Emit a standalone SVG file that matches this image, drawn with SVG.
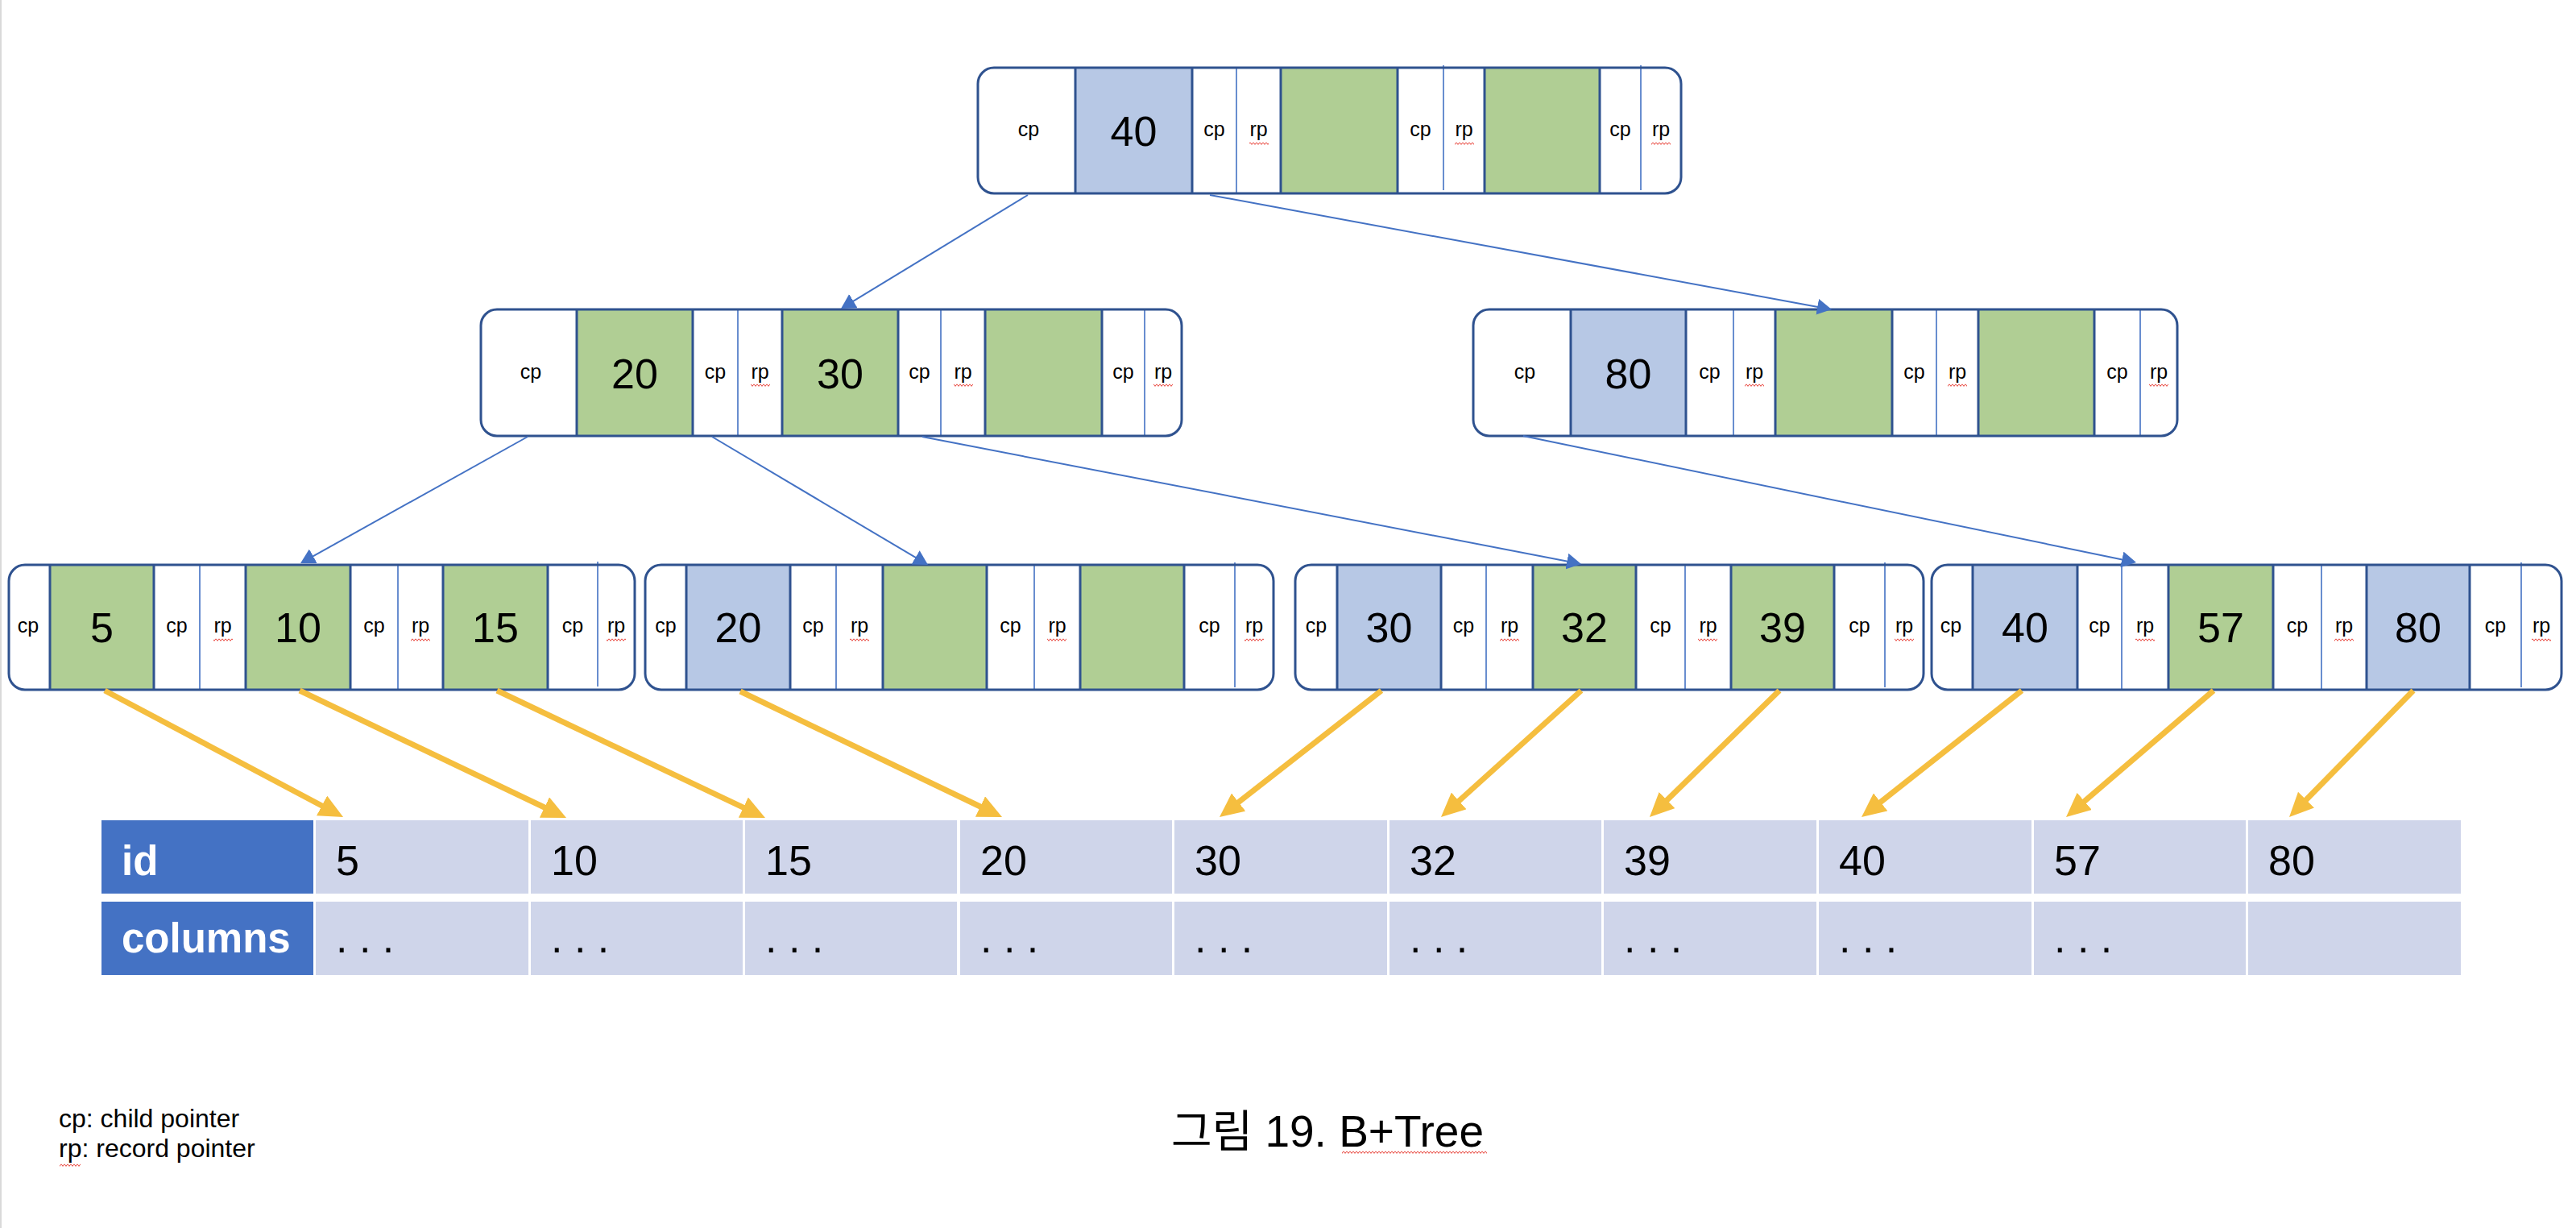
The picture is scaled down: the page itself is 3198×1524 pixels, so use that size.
<svg xmlns="http://www.w3.org/2000/svg" width="3198" height="1524" viewBox="0 0 3198 1524">
<defs>
<style>
.bg{fill:#fff}
.frame{fill:none;stroke:#2F528F;stroke-width:3}
.kb{fill:#B7C8E5}
.kg{fill:#B0CE94}
.thick{stroke:#2F528F;stroke-width:3}
.thin{stroke:#4472C4;stroke-width:1.6}
text{font-family:"Liberation Sans",Arial,sans-serif;fill:#000}
.l{font-size:25px;text-anchor:middle}
.n{font-size:52px;text-anchor:middle}
.blue{stroke:#4472C4;stroke-width:2;fill:none;marker-end:url(#ab)}
.gold{stroke:#F5BE3F;stroke-width:7;fill:none;marker-end:url(#ay)}
.hdr{fill:#4472C4}
.cell{fill:#CFD5EA}
.ht{font-size:51px;font-weight:bold;fill:#fff}
.ct{font-size:52px}
.sq{fill:url(#wave)}
</style>
<pattern id="wave" width="4" height="4" patternUnits="userSpaceOnUse">
<path d="M0,0.6 L2,3.4 L4,0.6" fill="none" stroke="#E8453C" stroke-width="1"/>
</pattern>
<marker id="ab" markerUnits="userSpaceOnUse" markerWidth="20" markerHeight="20" refX="9" refY="10" orient="auto">
<path d="M0,0 L18,10 L0,20 z" fill="#4472C4"/>
</marker>
<marker id="ay" markerUnits="userSpaceOnUse" markerWidth="30" markerHeight="28" refX="15" refY="14" orient="auto">
<path d="M0,0 L30,14 L0,28 z" fill="#F5BE3F"/>
</marker>
</defs>
<rect x="0" y="0" width="3198" height="1524" fill="#fff"/>
<rect x="0" y="0" width="2" height="1524" fill="#D9D9D9"/>

<g id="root">
<rect class="bg" x="1214" y="84" width="873" height="156" rx="20"/>
<rect class="kb" x="1335" y="84" width="145" height="156"/>
<rect class="kg" x="1590" y="84" width="145" height="156"/>
<rect class="kg" x="1843" y="84" width="143" height="156"/>
<path class="thick" d="M1335,84V240M1480,84V240M1590,84V240M1735,84V240M1843,84V240M1986,84V240"/>
<path class="thin" d="M1535,84V240M1792,81V236M2037,81V236"/>
<rect class="frame" x="1214" y="84" width="873" height="156" rx="20"/>
<text class="l" x="1277" y="169">cp</text>
<text class="n" x="1407.5" y="181">40</text>
<text class="l" x="1507.5" y="169">cp</text>
<text class="l" x="1562.5" y="169">rp</text>
<text class="l" x="1763.5" y="169">cp</text>
<text class="l" x="1817.5" y="169">rp</text>
<text class="l" x="2011.5" y="169">cp</text>
<text class="l" x="2062" y="169">rp</text>
<rect class="sq" x="1551" y="176" width="24" height="4"/>
<rect class="sq" x="1806" y="176" width="24" height="4"/>
<rect class="sq" x="2050" y="176" width="24" height="4"/>
</g>

<g id="n20_30">
<rect class="bg" x="597" y="384" width="870" height="157" rx="20"/>
<rect class="kg" x="716" y="384" width="144" height="157"/>
<rect class="kg" x="971" y="384" width="144" height="157"/>
<rect class="kg" x="1223" y="384" width="145" height="157"/>
<path class="thick" d="M716,384V541M860,384V541M971,384V541M1115,384V541M1223,384V541M1368,384V541"/>
<path class="thin" d="M916,384V541M1168,384V541M1421,384V541"/>
<rect class="frame" x="597" y="384" width="870" height="157" rx="20"/>
<text class="l" x="659" y="469.5">cp</text>
<text class="n" x="788" y="481.5">20</text>
<text class="l" x="888" y="469.5">cp</text>
<text class="l" x="943.5" y="469.5">rp</text>
<text class="n" x="1043" y="481.5">30</text>
<text class="l" x="1141.5" y="469.5">cp</text>
<text class="l" x="1195.5" y="469.5">rp</text>
<text class="l" x="1394.5" y="469.5">cp</text>
<text class="l" x="1444" y="469.5">rp</text>
<rect class="sq" x="932" y="476" width="24" height="4"/>
<rect class="sq" x="1184" y="476" width="24" height="4"/>
<rect class="sq" x="1432" y="476" width="24" height="4"/>
</g>

<g id="n80">
<rect class="bg" x="1829" y="384" width="874" height="157" rx="20"/>
<rect class="kb" x="1950" y="384" width="143" height="157"/>
<rect class="kg" x="2204" y="384" width="145" height="157"/>
<rect class="kg" x="2456" y="384" width="144" height="157"/>
<path class="thick" d="M1950,384V541M2093,384V541M2204,384V541M2349,384V541M2456,384V541M2600,384V541"/>
<path class="thin" d="M2152,384V541M2404,384V541M2657,384V541"/>
<rect class="frame" x="1829" y="384" width="874" height="157" rx="20"/>
<text class="l" x="1893" y="469.5">cp</text>
<text class="n" x="2021.5" y="481.5">80</text>
<text class="l" x="2122.5" y="469.5">cp</text>
<text class="l" x="2178" y="469.5">rp</text>
<text class="l" x="2376.5" y="469.5">cp</text>
<text class="l" x="2430" y="469.5">rp</text>
<text class="l" x="2628.5" y="469.5">cp</text>
<text class="l" x="2680" y="469.5">rp</text>
<rect class="sq" x="2166" y="476" width="24" height="4"/>
<rect class="sq" x="2418" y="476" width="24" height="4"/>
<rect class="sq" x="2668" y="476" width="24" height="4"/>
</g>

<g id="leaf5">
<rect class="bg" x="11" y="701" width="777" height="155" rx="20"/>
<rect class="kg" x="62" y="701" width="129" height="155"/>
<rect class="kg" x="305" y="701" width="130" height="155"/>
<rect class="kg" x="550" y="701" width="130" height="155"/>
<path class="thick" d="M62,701V856M191,701V856M305,701V856M435,701V856M550,701V856M680,701V856"/>
<path class="thin" d="M248,701V856M494,701V856M742,697V852"/>
<rect class="frame" x="11" y="701" width="777" height="155" rx="20"/>
<text class="l" x="35" y="785">cp</text>
<text class="n" x="126.5" y="797">5</text>
<text class="l" x="219.5" y="785">cp</text>
<text class="l" x="276.5" y="785">rp</text>
<text class="n" x="370" y="797">10</text>
<text class="l" x="464.5" y="785">cp</text>
<text class="l" x="522" y="785">rp</text>
<text class="n" x="615" y="797">15</text>
<text class="l" x="711" y="785">cp</text>
<text class="l" x="765" y="785">rp</text>
<rect class="sq" x="265" y="792" width="24" height="4"/>
<rect class="sq" x="510" y="792" width="24" height="4"/>
<rect class="sq" x="753" y="792" width="24" height="4"/>
</g>

<g id="leaf20">
<rect class="bg" x="801" y="701" width="780" height="155" rx="20"/>
<rect class="kb" x="852" y="701" width="129" height="155"/>
<rect class="kg" x="1096" y="701" width="129" height="155"/>
<rect class="kg" x="1341" y="701" width="129" height="155"/>
<path class="thick" d="M852,701V856M981,701V856M1096,701V856M1225,701V856M1341,701V856M1470,701V856"/>
<path class="thin" d="M1038,701V856M1284,701V856M1533,698V853"/>
<rect class="frame" x="801" y="701" width="780" height="155" rx="20"/>
<text class="l" x="826.5" y="785">cp</text>
<text class="n" x="916.5" y="797">20</text>
<text class="l" x="1009.5" y="785">cp</text>
<text class="l" x="1067" y="785">rp</text>
<text class="l" x="1254.5" y="785">cp</text>
<text class="l" x="1312.5" y="785">rp</text>
<text class="l" x="1501.5" y="785">cp</text>
<text class="l" x="1557" y="785">rp</text>
<rect class="sq" x="1055" y="792" width="24" height="4"/>
<rect class="sq" x="1300" y="792" width="24" height="4"/>
<rect class="sq" x="1545" y="792" width="24" height="4"/>
</g>

<g id="leaf30">
<rect class="bg" x="1608" y="701" width="780" height="155" rx="20"/>
<rect class="kb" x="1660" y="701" width="129" height="155"/>
<rect class="kg" x="1903" y="701" width="128" height="155"/>
<rect class="kg" x="2149" y="701" width="128" height="155"/>
<path class="thick" d="M1660,701V856M1789,701V856M1903,701V856M2031,701V856M2149,701V856M2277,701V856"/>
<path class="thin" d="M1845,701V856M2092,701V856M2340,698V853"/>
<rect class="frame" x="1608" y="701" width="780" height="155" rx="20"/>
<text class="l" x="1634" y="785">cp</text>
<text class="n" x="1724.5" y="797">30</text>
<text class="l" x="1817" y="785">cp</text>
<text class="l" x="1874" y="785">rp</text>
<text class="n" x="1967" y="797">32</text>
<text class="l" x="2061.5" y="785">cp</text>
<text class="l" x="2120.5" y="785">rp</text>
<text class="n" x="2213" y="797">39</text>
<text class="l" x="2308.5" y="785">cp</text>
<text class="l" x="2364" y="785">rp</text>
<rect class="sq" x="1862" y="792" width="24" height="4"/>
<rect class="sq" x="2108" y="792" width="24" height="4"/>
<rect class="sq" x="2352" y="792" width="24" height="4"/>
</g>

<g id="leaf40">
<rect class="bg" x="2398" y="701" width="782" height="155" rx="20"/>
<rect class="kb" x="2449" y="701" width="130" height="155"/>
<rect class="kg" x="2692" y="701" width="130" height="155"/>
<rect class="kb" x="2938" y="701" width="128" height="155"/>
<path class="thick" d="M2449,701V856M2579,701V856M2692,701V856M2822,701V856M2938,701V856M3066,701V856"/>
<path class="thin" d="M2634,698V855M2882,701V856M3130,698V853"/>
<rect class="frame" x="2398" y="701" width="782" height="155" rx="20"/>
<text class="l" x="2422" y="785">cp</text>
<text class="n" x="2514" y="797">40</text>
<text class="l" x="2606.5" y="785">cp</text>
<text class="l" x="2663" y="785">rp</text>
<text class="n" x="2757" y="797">57</text>
<text class="l" x="2852" y="785">cp</text>
<text class="l" x="2910" y="785">rp</text>
<text class="n" x="3002" y="797">80</text>
<text class="l" x="3098" y="785">cp</text>
<text class="l" x="3155" y="785">rp</text>
<rect class="sq" x="2651" y="792" width="24" height="4"/>
<rect class="sq" x="2898" y="792" width="24" height="4"/>
<rect class="sq" x="3143" y="792" width="24" height="4"/>
</g>

<g id="table">
<rect class="hdr" x="126" y="1018" width="263" height="91"/>
<rect class="hdr" x="126" y="1119" width="263" height="91"/>
<text class="ht" x="151" y="1086">id</text>
<text class="ht" x="151" y="1182">columns</text>
<g class="cell">
<rect x="392" y="1018" width="264" height="91"/><rect x="392" y="1119" width="264" height="91"/>
<rect x="659" y="1018" width="263" height="91"/><rect x="659" y="1119" width="263" height="91"/>
<rect x="925" y="1018" width="263" height="91"/><rect x="925" y="1119" width="263" height="91"/>
<rect x="1192" y="1018" width="263" height="91"/><rect x="1192" y="1119" width="263" height="91"/>
<rect x="1458" y="1018" width="264" height="91"/><rect x="1458" y="1119" width="264" height="91"/>
<rect x="1725" y="1018" width="263" height="91"/><rect x="1725" y="1119" width="263" height="91"/>
<rect x="1991" y="1018" width="264" height="91"/><rect x="1991" y="1119" width="264" height="91"/>
<rect x="2258" y="1018" width="264" height="91"/><rect x="2258" y="1119" width="264" height="91"/>
<rect x="2525" y="1018" width="263" height="91"/><rect x="2525" y="1119" width="263" height="91"/>
<rect x="2791" y="1018" width="264" height="91"/><rect x="2791" y="1119" width="264" height="91"/>
</g>
<text class="ct" x="417" y="1086">5</text>
<text class="ct" x="684" y="1086">10</text>
<text class="ct" x="950" y="1086">15</text>
<text class="ct" x="1217" y="1086">20</text>
<text class="ct" x="1483" y="1086">30</text>
<text class="ct" x="1750" y="1086">32</text>
<text class="ct" x="2016" y="1086">39</text>
<text class="ct" x="2283" y="1086">40</text>
<text class="ct" x="2550" y="1086">57</text>
<text class="ct" x="2816" y="1086">80</text>
<text class="ct" x="417" y="1182">. . .</text>
<text class="ct" x="684" y="1182">. . .</text>
<text class="ct" x="950" y="1182">. . .</text>
<text class="ct" x="1217" y="1182">. . .</text>
<text class="ct" x="1483" y="1182">. . .</text>
<text class="ct" x="1750" y="1182">. . .</text>
<text class="ct" x="2016" y="1182">. . .</text>
<text class="ct" x="2283" y="1182">. . .</text>
<text class="ct" x="2550" y="1182">. . .</text>
</g>

<g id="connectors">
<line class="blue" x1="1276" y1="242" x2="1051.7" y2="378.3"/>
<line class="blue" x1="1502" y1="242" x2="2265.1" y2="382.4"/>
<line class="blue" x1="655" y1="542" x2="380.9" y2="694.6"/>
<line class="blue" x1="884" y1="542" x2="1144.3" y2="696.4"/>
<line class="blue" x1="1145" y1="542" x2="1954.2" y2="698.3"/>
<line class="blue" x1="1891" y1="541" x2="2643.2" y2="696.2"/>
<line class="gold" x1="130" y1="857" x2="412.8" y2="1007"/>
<line class="gold" x1="372" y1="857" x2="689.5" y2="1008.5"/>
<line class="gold" x1="617" y1="857" x2="936.4" y2="1008.6"/>
<line class="gold" x1="919" y1="858" x2="1230.5" y2="1007.5"/>
<line class="gold" x1="1715" y1="857" x2="1525.8" y2="1004.8"/>
<line class="gold" x1="1963" y1="857" x2="1800.1" y2="1004"/>
<line class="gold" x1="2209" y1="857" x2="2058.7" y2="1003.5"/>
<line class="gold" x1="2510" y1="857" x2="2322.8" y2="1004.7"/>
<line class="gold" x1="2748" y1="857" x2="2576.4" y2="1004.2"/>
<line class="gold" x1="2996" y1="857" x2="2852.5" y2="1003.3"/>
</g>

<g id="legend">
<text x="73" y="1399" font-size="32">cp: child pointer</text>
<text x="73" y="1436" font-size="32">rp: record pointer</text>
<rect class="sq" x="74" y="1444" width="26" height="4"/>
</g>

<g id="caption">
<text x="1648" y="1423" font-size="55" text-anchor="middle" style="font-family:'Liberation Sans','Noto Sans CJK KR',sans-serif">그림 19. B+Tree</text>
<rect class="sq" x="1666" y="1428" width="180" height="4"/>
</g>
</svg>
